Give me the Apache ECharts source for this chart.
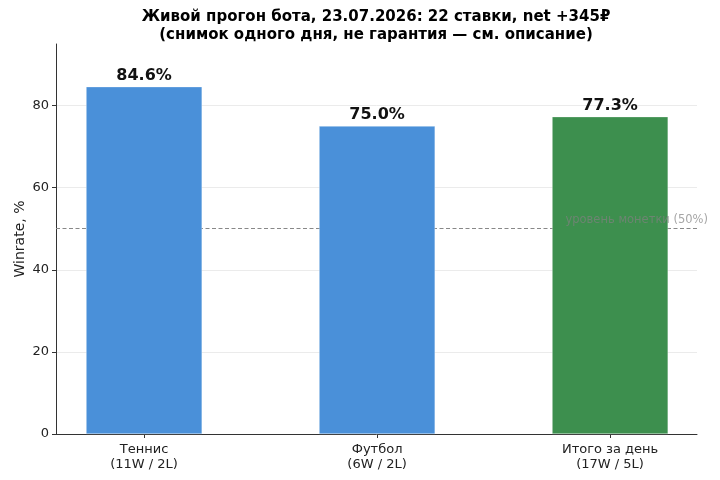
<!DOCTYPE html>
<html>
<head>
<meta charset="utf-8">
<script src="https://cdn.jsdelivr.net/npm/echarts@6/dist/echarts.min.js"></script>
<style>
  html, body { margin: 0; padding: 0; background: #fff; }
  #chart { width: 720px; height: 480px; }
</style>
</head>
<body>
<div id="chart"></div>
<script>
    // данные прогона за день
    var categories = ["Теннис", "Футбол", "Итого за день"];
    var wins = [11, 6, 17];
    var losses = [2, 2, 5];
    var winrate = [84.6, 75.0, 77.3];
    var barColors = ["#4a90d9", "#4a90d9", "#3d8f4e"];
    var yTicks = [0, 20, 40, 60, 80];
    var coinLevel = 50;

    var FONT = "DejaVu Sans";

    var chart = echarts.init(document.getElementById("chart"));

    var barData = [];
    for (var i = 0; i < categories.length; i++) {
        barData.push({
            value: [i, winrate[i]],
            itemStyle: { color: barColors[i] }
        });
    }

    var option = {
        animation: false,
        textStyle: { fontFamily: FONT },
        title: {
            text: "Живой прогон бота, 23.07.2026: 22 ставки, net +345₽\n(снимок одного дня, не гарантия — см. описание)",
            left: 371,
            top: 3,
            textAlign: "center",
            textStyle: {
                fontFamily: FONT,
                fontSize: 15,
                fontWeight: "bold",
                color: "#000",
                lineHeight: 18
            }
        },
        grid: { left: 56, right: 23, top: 44, bottom: 46, outerBoundsMode: "none" },
        xAxis: {
            type: "value",
            min: -0.378,
            max: 2.373,
            splitLine: { show: false },
            axisLine: { show: true, onZero: false, lineStyle: { color: "#333", width: 1 } },
            axisTick: { show: true, customValues: [0, 1, 2], length: 4, lineStyle: { color: "#333" } },
            axisLabel: {
                customValues: [0, 1, 2],
                margin: 8,
                fontSize: 13,
                lineHeight: 15,
                color: "#222",
                formatter: function (v) {
                    var k = Math.round(v);
                    return categories[k] + "\n(" + wins[k] + "W / " + losses[k] + "L)";
                }
            }
        },
        yAxis: {
            type: "value",
            min: 0,
            max: 95,
            name: "Winrate, %",
            nameLocation: "middle",
            nameGap: 29,
            nameMoveOverlap: false,
            nameTextStyle: { fontSize: 14, color: "#222" },
            axisLine: { show: true, onZero: false, lineStyle: { color: "#333", width: 1 } },
            axisTick: { show: true, customValues: yTicks, length: 4, lineStyle: { color: "#333" } },
            axisLabel: { customValues: yTicks, fontSize: 13, color: "#222", margin: 7 },
            splitLine: { show: true, lineStyle: { color: "#ebebeb", width: 1 } }
        },
        series: [
            {
                // линия 50% под столбцами
                type: "line",
                data: [],
                markLine: {
                    z: 1,
                    silent: true,
                    symbol: "none",
                    label: { show: false },
                    lineStyle: { color: "#888", type: [4, 2.5], width: 1 },
                    data: [{ yAxis: coinLevel }]
                }
            },
            {
                type: "bar",
                z: 2,
                barWidth: 116,
                data: barData,
                itemStyle: { borderColor: "rgba(255,255,255,0.6)", borderWidth: 0.5 },
                label: {
                    show: true,
                    position: "top",
                    distance: 3,
                    fontSize: 16,
                    fontWeight: "bold",
                    color: "#111",
                    formatter: function (p) { return p.value[1].toFixed(1) + "%"; }
                }
            },
            {
                // подпись линии поверх столбцов
                type: "line",
                data: [],
                markLine: {
                    z: 20,
                    silent: true,
                    symbol: "none",
                    lineStyle: { color: "rgba(0,0,0,0)", width: 0 },
                    label: {
                        show: true,
                        position: "insideEndTop",
                        formatter: "уровень монетки (" + coinLevel + "%)",
                        fontSize: 11.5,
                        color: "rgba(128,128,128,0.7)",
                        offset: [16, 2]
                    },
                    data: [{ yAxis: coinLevel }]
                }
            }
        ]
    };

    chart.setOption(option);
</script>
</body>
</html>
